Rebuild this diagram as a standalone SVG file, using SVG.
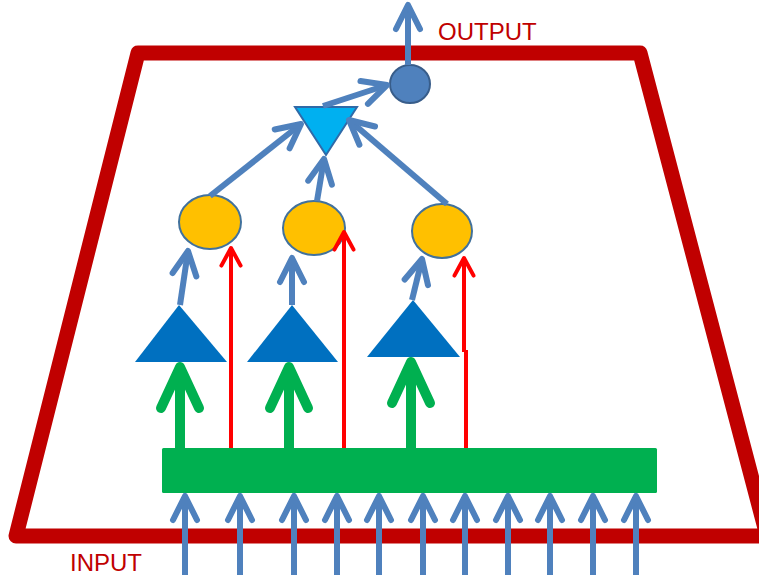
<svg xmlns="http://www.w3.org/2000/svg" width="759" height="575" viewBox="0 0 759 575">
<style>
.lbl{font-family:"Liberation Sans",Arial,sans-serif;font-size:24px;fill:#C00000}
.b{stroke:#4F81BD;stroke-width:6;fill:none;marker-end:url(#hb)}
.g{stroke:#00B050;stroke-width:10;fill:none;marker-end:url(#hg)}
.r{stroke:#FF0000;stroke-width:4;fill:none}
.ra{marker-end:url(#hr)}
.neu{fill:#FFC000;stroke:#41719C;stroke-width:2}
.tri{fill:#0070C0}
</style>
<defs>
<marker id="hb" viewBox="-6 -4 8 8" refX="0" refY="0" markerWidth="8" markerHeight="8" markerUnits="strokeWidth" orient="auto" overflow="visible"><path d="M-4,-2 L0,0 L-4,2" fill="none" stroke="#4F81BD" stroke-width="1" stroke-linecap="round" stroke-linejoin="round"/></marker>
<marker id="hg" viewBox="-6 -4 8 8" refX="0" refY="0" markerWidth="8" markerHeight="8" markerUnits="strokeWidth" orient="auto" overflow="visible"><path d="M-4.1,-1.9 L0,0 L-4.1,1.9" fill="none" stroke="#00B050" stroke-width="1" stroke-linecap="round" stroke-linejoin="round"/></marker>
<marker id="hr" viewBox="-6 -4 8 8" refX="0" refY="0" markerWidth="8" markerHeight="8" markerUnits="strokeWidth" orient="auto" overflow="visible"><path d="M-4.4,-2.4 L0,0 L-4.4,2.4" fill="none" stroke="#FF0000" stroke-width="1" stroke-linecap="round" stroke-linejoin="round"/></marker>
</defs>
<rect width="759" height="575" fill="#FFFFFF"/>
<g id="frame"><polygon points="138,53 640,53 767,536 16,536" fill="none" stroke="#C00000" stroke-width="15" stroke-linejoin="round"/></g>
<g id="labels">
<text class="lbl" x="438" y="40">OUTPUT</text>
<text class="lbl" x="70" y="571">INPUT</text>
</g>
<g id="output-node"><ellipse cx="410" cy="84" rx="20" ry="19" fill="#4F81BD" stroke="#385D8A" stroke-width="2"/></g>
<g id="sum-node"><polygon points="295,107 357,107 326,155" fill="#00B0F0" stroke="#2F6AA8" stroke-width="2"/></g>
<g id="neuron-1"><ellipse class="neu" cx="210" cy="222" rx="31" ry="27"/></g>
<g id="neuron-2"><ellipse class="neu" cx="314" cy="228" rx="31" ry="27"/></g>
<g id="neuron-3"><ellipse class="neu" cx="442" cy="231" rx="30" ry="27"/></g>
<g id="filter-1"><polygon class="tri" points="179,305 227,362 135,362"/></g>
<g id="filter-2"><polygon class="tri" points="292,305 338,362 247,362"/></g>
<g id="filter-3"><polygon class="tri" points="413,300 460,357 367,357"/></g>
<g id="input-layer"><rect x="162" y="448" width="495" height="45" fill="#00B050" rx="1.5"/></g>
<g id="connectors">
<line class="b" x1="408" y1="65" x2="408" y2="5"/>
<line class="b" x1="323" y1="106" x2="387" y2="85"/>
<line class="b" x1="210" y1="196" x2="301" y2="124"/>
<line class="b" x1="317" y1="201" x2="324" y2="159"/>
<line class="b" x1="447" y1="204" x2="349" y2="120"/>
<line class="b" x1="180" y1="305" x2="188" y2="251"/>
<line class="b" x1="292" y1="305" x2="292" y2="258"/>
<line class="b" x1="412" y1="300" x2="422" y2="259"/>
<line class="g" x1="180" y1="448" x2="180" y2="367"/>
<line class="g" x1="289" y1="448" x2="289" y2="367"/>
<line class="g" x1="411" y1="448" x2="411" y2="362"/>
<line class="r ra" x1="231" y1="448" x2="231" y2="248"/>
<line class="r ra" x1="344" y1="448" x2="344" y2="232"/>
<line class="r" x1="466" y1="448" x2="466" y2="350"/>
<line class="r ra" x1="464" y1="352" x2="464" y2="258"/>
<line class="b" x1="185" y1="575" x2="185" y2="496"/>
<line class="b" x1="240" y1="575" x2="240" y2="496"/>
<line class="b" x1="294" y1="575" x2="294" y2="496"/>
<line class="b" x1="337" y1="575" x2="337" y2="496"/>
<line class="b" x1="379" y1="575" x2="379" y2="496"/>
<line class="b" x1="423" y1="575" x2="423" y2="496"/>
<line class="b" x1="465" y1="575" x2="465" y2="496"/>
<line class="b" x1="508" y1="575" x2="508" y2="496"/>
<line class="b" x1="550" y1="575" x2="550" y2="496"/>
<line class="b" x1="593" y1="575" x2="593" y2="496"/>
<line class="b" x1="636" y1="575" x2="636" y2="496"/>
</g>
</svg>
